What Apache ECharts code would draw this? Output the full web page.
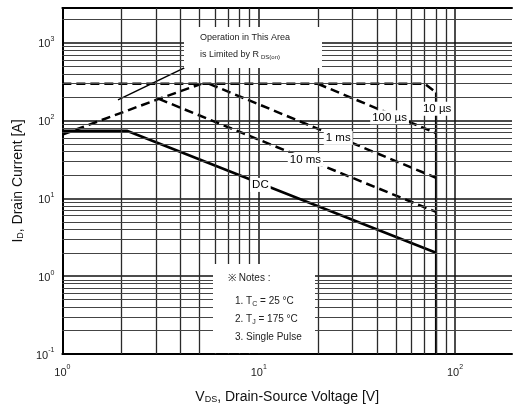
<!DOCTYPE html>
<html><head><meta charset="utf-8">
<script src="https://cdn.jsdelivr.net/npm/echarts@6/dist/echarts.min.js"></script>
<style>html,body{margin:0;padding:0;background:#fff}#c{width:515px;height:414px}</style>
</head><body><div id="c"></div>
<script>
// ---- data ----
const xDecadeGrid = [10,100];
const xMinorGrid = [2,3,4,5,6,7,8,9,20,30,40,50,60,70,80,90];
const yMinorGrid = [0.2,0.3,0.4,0.5,0.6,0.7,0.8,0.9,2,3,4,5,6,7,8,9,20,30,40,50,60,70,80,90,200,300,400,500,600,700,800,900,2000];
const rdsLimit   = [[1,66],[3.1,190],[5.1,297]];
const curve10us  = [[1,297],[70,297],[80,230]];
const curve100us = [[20,297],[80,69]];
const curve1ms   = [[5.6,297],[80,18.4]];
const curve10ms  = [[3.1,190],[80,6.7]];
const curveDC    = [[1,74],[2.13,74],[80,2]];
const bvdssLimit = [[80,230],[80,0.1]];
const leaderLine = [[1.92,185],[4.18,477]];
const curveLabels = [[81,142,'10 µs'],[46.4,110,'100 µs'],[25.4,60,'1 ms'],[17.3,31.3,'10 ms'],[10.2,14.9,'DC']];

const FONT = '"Liberation Sans", Arial, sans-serif';
const supFmt = v => { const l = Math.log10(v); const e = Math.round(l); if (Math.abs(l-e) > 1e-6) return ''; return '{b|10}{s|' + e + '}'; };
const tickRich = {
  b:{fontSize:11, lineHeight:14, verticalAlign:'bottom', fontFamily:FONT, color:'#222'},
  s:{fontSize:7, lineHeight:8, verticalAlign:'top', fontFamily:FONT, color:'#222'}
};
const nameRich = {
  n:{fontSize:14, lineHeight:14, verticalAlign:'top', fontFamily:FONT, color:'#111'},
  s:{fontSize:9, lineHeight:10, padding:[8,0,0,0], verticalAlign:'bottom', fontFamily:FONT, color:'#111'}
};
const dashed = {color:'#000', width:2.5, type:[9,5]};
const solid = {color:'#000', width:2.5, type:'solid'};
function lineSeries(data, style, z){ return {type:'line', data, showSymbol:false, symbol:'none', lineStyle:style, z:z||3, silent:true, animation:false}; }

const chart = echarts.init(document.getElementById('c'));
chart.setOption({
  animation:false,
  backgroundColor:'#fff',
  grid:{left:62, top:8, right:0, bottom:60, show:false},
  xAxis:[{type:'log', logBase:10, min:1, max:195,
    axisLine:{lineStyle:{color:'#000', width:2}}, axisTick:{show:false},
    splitLine:{show:false},
    axisLabel:{formatter:supFmt, rich:tickRich, margin:10},
    name:'{n|V}{s|DS}{n|, Drain-Source Voltage [V]}', nameLocation:'middle', nameGap:36,
    nameTextStyle:{rich:nameRich}},
   {type:'log', logBase:10, min:1, max:195, position:'top',
    axisLine:{show:true, onZero:false, lineStyle:{color:'#000', width:2}}, axisTick:{show:false},
    axisLabel:{show:false}, splitLine:{show:false}}],
  yAxis:{type:'log', logBase:10, min:0.1, max:2800,
    axisLine:{lineStyle:{color:'#000', width:2}}, axisTick:{show:false},
    splitLine:{show:true, lineStyle:{color:'#111', width:1.5}},
    axisLabel:{formatter:supFmt, rich:tickRich, margin:8},
    name:'{n|I}{s|D}{n|, Drain Current [A]}', nameLocation:'middle', nameGap:32,
    nameTextStyle:{rich:nameRich}},
  series:[
    {type:'line', data:[[1,0.1]], showSymbol:false, lineStyle:{opacity:0}, silent:true, z:1,
     markLine:{silent:true, symbol:['none','none'], label:{show:false}, animation:false,
       data:[].concat(
         xDecadeGrid.map(v=>({xAxis:v, lineStyle:{color:'#111', width:1.5, type:'solid'}})),
         xMinorGrid.map(v=>({xAxis:v, lineStyle:{color:'#2a2a2a', width:1.3, type:'solid'}})),
         yMinorGrid.map(v=>({yAxis:v, lineStyle:{color:'#444', width:1.2, type:'solid'}}))
       )}},
    lineSeries(rdsLimit, dashed),
    lineSeries(curve10us, dashed),
    lineSeries(curve100us, dashed),
    lineSeries(curve1ms, dashed),
    lineSeries(curve10ms, dashed),
    lineSeries(curveDC, solid),
    lineSeries(bvdssLimit, {color:'#000', width:2.2, type:'solid'}),
    lineSeries(leaderLine, {color:'#000', width:1.5, type:'solid'}),
    {type:'scatter', data:curveLabels, symbolSize:0, z:6, silent:true,
     itemStyle:{color:'#000'},
     label:{show:true, position:'inside', formatter:p=>p.data[2], backgroundColor:'#fff', padding:[1,2],
       fontSize:11.5, fontFamily:FONT, color:'#000', textBorderWidth:0, opacity:1}}
  ],
  graphic:[
    {type:'rect', z:100, shape:{x:184, y:27, width:138, height:41}, style:{fill:'#fff'}},
    {type:'text', z:101, style:{x:200, y:38, text:'Operation in This Area', font:'9px '+FONT, fill:'#222', textVerticalAlign:'middle', verticalAlign:'middle'}},
    {type:'text', z:101, style:{x:200, y:55, text:'{n|is Limited by R}{s|DS(on)}', fill:'#222', textVerticalAlign:'middle', verticalAlign:'middle',
      rich:{n:{fontSize:9, lineHeight:10, verticalAlign:'top', fontFamily:FONT, color:'#222'}, s:{fontSize:6, lineHeight:7, padding:[6,0,0,2], verticalAlign:'bottom', fontFamily:FONT, color:'#222'}}}},
    {type:'rect', z:100, shape:{x:213, y:264, width:102, height:89}, style:{fill:'#fff'}},
    {type:'text', z:101, style:{x:228, y:278, text:'※ Notes :', font:'10px '+FONT, fill:'#222', textVerticalAlign:'middle', verticalAlign:'middle'}},
    {type:'text', z:101, style:{x:235, y:302, text:'{n|1. T}{s|C}{n| = 25 °C}', fill:'#222', textVerticalAlign:'middle', verticalAlign:'middle',
      rich:{n:{fontSize:10, lineHeight:11, verticalAlign:'top', fontFamily:FONT, color:'#222'}, s:{fontSize:7, lineHeight:7, padding:[6,0,0,0], verticalAlign:'bottom', fontFamily:FONT, color:'#222'}}}},
    {type:'text', z:101, style:{x:235, y:320, text:'{n|2. T}{s|J}{n| = 175 °C}', fill:'#222', textVerticalAlign:'middle', verticalAlign:'middle',
      rich:{n:{fontSize:10, lineHeight:11, verticalAlign:'top', fontFamily:FONT, color:'#222'}, s:{fontSize:7, lineHeight:7, padding:[6,0,0,0], verticalAlign:'bottom', fontFamily:FONT, color:'#222'}}}},
    {type:'text', z:101, style:{x:235, y:337, text:'3. Single Pulse', font:'10px '+FONT, fill:'#222', textVerticalAlign:'middle', verticalAlign:'middle'}}
  ]
});
</script></body></html>
